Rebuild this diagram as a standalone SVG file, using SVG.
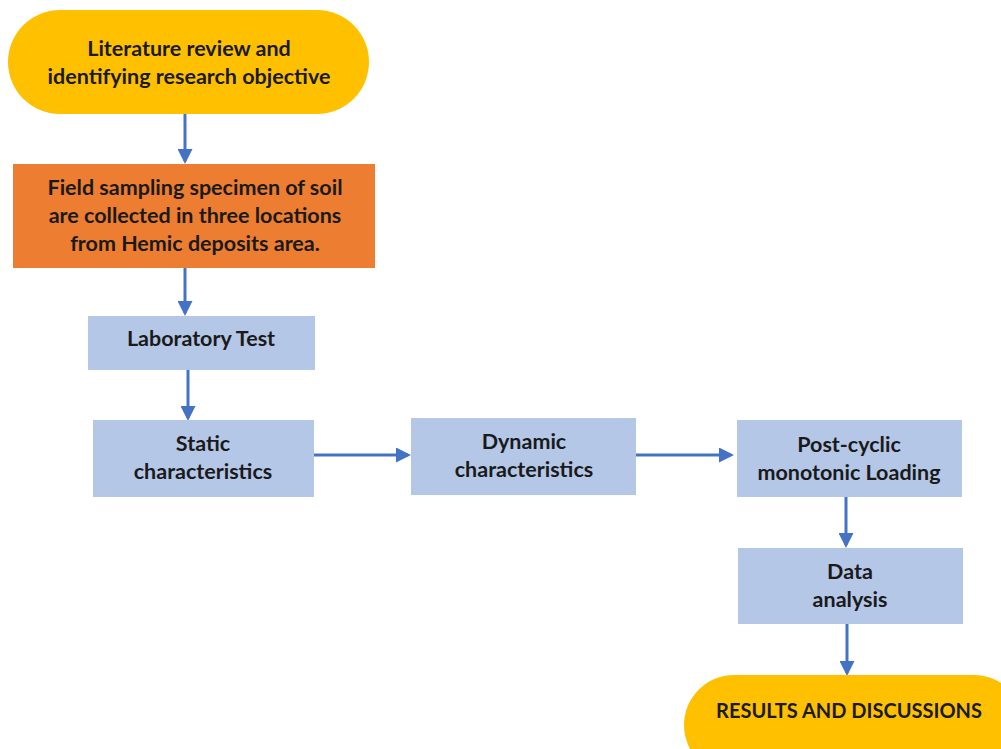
<svg xmlns="http://www.w3.org/2000/svg" width="1001" height="749" viewBox="0 0 1001 749">
<style>
text{font-family:Lato,"Liberation Sans",sans-serif;font-weight:bold;font-size:21.5px;fill:#1a1a1a;text-anchor:middle}
.blue{fill:#B4C7E7}
.conn{stroke:#4472C4;stroke-width:3;fill:none;marker-end:url(#ah)}
</style>
<defs>
<marker id="ah" markerWidth="5" markerHeight="5" refX="4" refY="2.5" orient="auto" markerUnits="strokeWidth">
<path d="M0,0 L5,2.5 L0,5 Z" fill="#4472C4"/>
</marker>
</defs>
<rect width="1001" height="749" fill="#fff"/>
<g id="connectors">
<line class="conn" x1="185" y1="114" x2="185" y2="161"/>
<line class="conn" x1="185" y1="268" x2="185" y2="313"/>
<line class="conn" x1="188" y1="370" x2="188" y2="418"/>
<line class="conn" x1="314" y1="455" x2="408" y2="455"/>
<line class="conn" x1="636" y1="455" x2="731" y2="455"/>
<line class="conn" x1="846" y1="497" x2="846" y2="545"/>
<line class="conn" x1="847" y1="624" x2="847" y2="673"/>
</g>
<g id="n1">
<rect x="8" y="10" width="361" height="104" rx="52" fill="#FFC000"/>
<text x="189" y="56">Literature review and</text>
<text x="189" y="84">identifying research objective</text>
</g>
<g id="n2">
<rect x="13" y="164" width="362" height="104" fill="#ED7D31"/>
<text x="195" y="195">Field sampling specimen of soil</text>
<text x="195" y="223">are collected in three locations</text>
<text x="195" y="251">from Hemic deposits area.</text>
</g>
<g id="n3">
<rect class="blue" x="88" y="316" width="227" height="54"/>
<text x="201" y="346">Laboratory Test</text>
</g>
<g id="n4">
<rect class="blue" x="93" y="420" width="221" height="77"/>
<text x="203" y="451">Static</text>
<text x="203" y="479">characteristics</text>
</g>
<g id="n5">
<rect class="blue" x="411" y="418" width="225" height="77"/>
<text x="524" y="449">Dynamic</text>
<text x="524" y="477">characteristics</text>
</g>
<g id="n6">
<rect class="blue" x="737" y="420" width="225" height="77"/>
<text x="849" y="452">Post-cyclic</text>
<text x="849" y="480">monotonic Loading</text>
</g>
<g id="n7">
<rect class="blue" x="738" y="548" width="225" height="76"/>
<text x="850" y="579">Data</text>
<text x="850" y="607">analysis</text>
</g>
<g id="n8">
<rect x="684" y="675" width="340" height="100" rx="50" fill="#FFC000"/>
<text x="849" y="718" style="font-size:20px">RESULTS AND DISCUSSIONS</text>
</g>
</svg>
